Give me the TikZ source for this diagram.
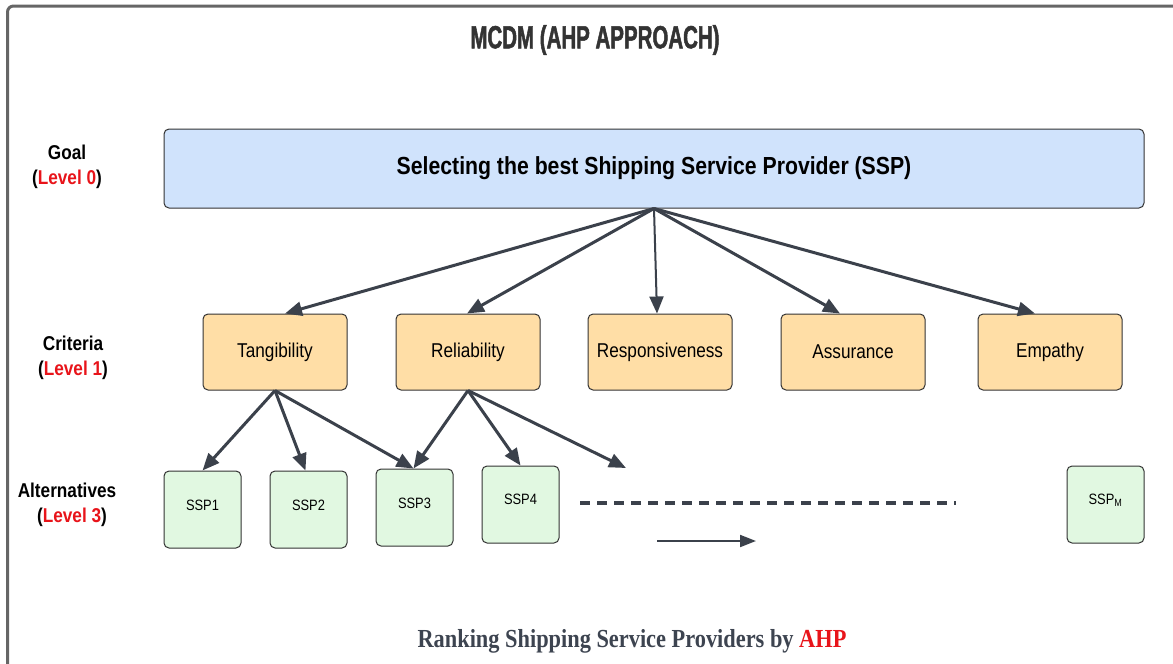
\documentclass[tikz,border=0pt]{standalone}
\usepackage{fontspec}
\setmainfont{Liberation Sans}
\newfontfamily\narrow[FakeStretch=0.86]{Liberation Sans}
\newfontfamily\titlefont[FakeStretch=0.64, FakeBold=1.5]{Liberation Sans}
\newfontfamily\serifb[FakeStretch=0.86]{Liberation Serif}
\usetikzlibrary{arrows.meta,calc}
\definecolor{frame}{HTML}{666666}
\definecolor{edge}{HTML}{3B414B}
\definecolor{goalfill}{HTML}{D0E3FC}
\definecolor{critfill}{HTML}{FFDEA6}
\definecolor{altfill}{HTML}{E1F8E1}
\definecolor{lvred}{HTML}{E8141A}
\definecolor{txt}{HTML}{3D4450}
\tikzset{
  box/.style={draw=black!80, line width=1pt, rounded corners=5pt, inner sep=0pt, align=center},
  goalbox/.style={box, fill=goalfill, minimum width=980pt, minimum height=79pt, font=\narrow\bfseries\fontsize{24.7}{28}\selectfont},
  critbox/.style={box, fill=critfill, minimum width=144pt, minimum height=76pt, font=\narrow\fontsize{20}{24}\selectfont},
  altbox/.style={box, fill=altfill, minimum width=77pt, minimum height=77pt, font=\narrow\fontsize{15}{18}\selectfont},
  alttext/.style={font=\narrow\fontsize{15}{18}\selectfont, inner sep=0pt},
  lvl/.style={align=center, font=\narrow\bfseries\fontsize{20}{25}\selectfont},
  arr/.style={draw=edge, line width=3pt, -{Triangle[length=17pt,width=14pt]}, shorten >=0pt},
}
\begin{document}
\begin{tikzpicture}[x=1pt,y=-1pt]
\useasboundingbox (0,0) rectangle (1173,664);
\draw[frame, line width=3pt, rounded corners=6pt] (7.5,6) rectangle (1190,690);
\node[font=\titlefont\bfseries\fontsize{32}{34}\selectfont, text=black!80] (title) at (595,40) {MCDM (AHP APPROACH)};

\node[goalbox] (goal) at (654,168.5) {Selecting the best Shipping Service Provider (SSP)};

\node[critbox] (tang) at (275,352) {Tangibility};
\node[critbox] (reli) at (468,352) {Reliability};
\node[critbox] (resp) at (660,352) {Responsiveness};
\node[critbox] (assu) at (853,352) {Assurance};
\node[critbox] (empa) at (1050,352) {Empathy};

\node[altbox] (s1) at (202.5,509.5) {};
\node[altbox] (s2) at (308.5,509.5) {};
\node[altbox] (s3) at (414.5,507.5) {};
\node[altbox] (s4) at (520.5,504.5) {};
\node[altbox] (sm) at (1105.5,504.5) {};
\node[alttext] (t1) at ([yshift=4pt]s1.center) {SSP1};
\node[alttext] (t2) at ([yshift=4pt]s2.center) {SSP2};
\node[alttext] (t3) at ([yshift=4pt]s3.center) {SSP3};
\node[alttext] (t4) at ([yshift=5pt]s4.center) {SSP4};
\node[alttext] (tm) at ([yshift=4pt]sm.center) {SSP\textsubscript{M}};

\node[lvl] (l0) at (67,167) {Goal\\(\textcolor{lvred}{Level 0})};
\node[lvl] (l1) at (73,358) {Criteria\\(\textcolor{lvred}{Level 1})};
\node[lvl] (l3) at (67,505) {Alternatives\\\hspace*{10pt}(\textcolor{lvred}{Level 3})};

\draw[arr] (goal.south) -- ([xshift=10pt]tang.north);
\draw[arr] (goal.south) -- ([xshift=-1pt]reli.north);
\draw[arr, line width=2pt] (goal.south) -- ([xshift=-3pt]resp.north);
\draw[arr] (goal.south) -- ([xshift=-13pt]assu.north);
\draw[arr] (goal.south) -- ([xshift=-15pt]empa.north);

\draw[arr] (tang.south) -- ([xshift=0pt]s1.north);
\draw[arr] (tang.south) -- ([xshift=-3pt]s2.north);
\draw[arr] (tang.south) -- ([xshift=-1pt]s3.north);
\coordinate (free) at (626,468);
\draw[arr] (reli.south) -- ([xshift=-1pt]s3.north);
\draw[arr] (reli.south) -- ([xshift=0pt]s4.north);
\draw[arr] (reli.south) -- (free);

\coordinate (d1) at (580,503);
\coordinate (d2) at (956,503);
\draw[edge, line width=4.5pt, dash pattern=on 10pt off 7pt] (d1) -- (d2);
\coordinate (a1) at (657,541);
\coordinate (a2) at (756,541);
\draw[draw=edge, line width=2pt, -{Triangle[length=16pt,width=12pt]}] (a1) -- (a2);

\node[font=\serifb\bfseries\fontsize{26}{30}\selectfont, text=txt] (cap) at (632,641) {Ranking Shipping Service Providers by \textcolor{lvred}{AHP}};
\end{tikzpicture}
\end{document}
